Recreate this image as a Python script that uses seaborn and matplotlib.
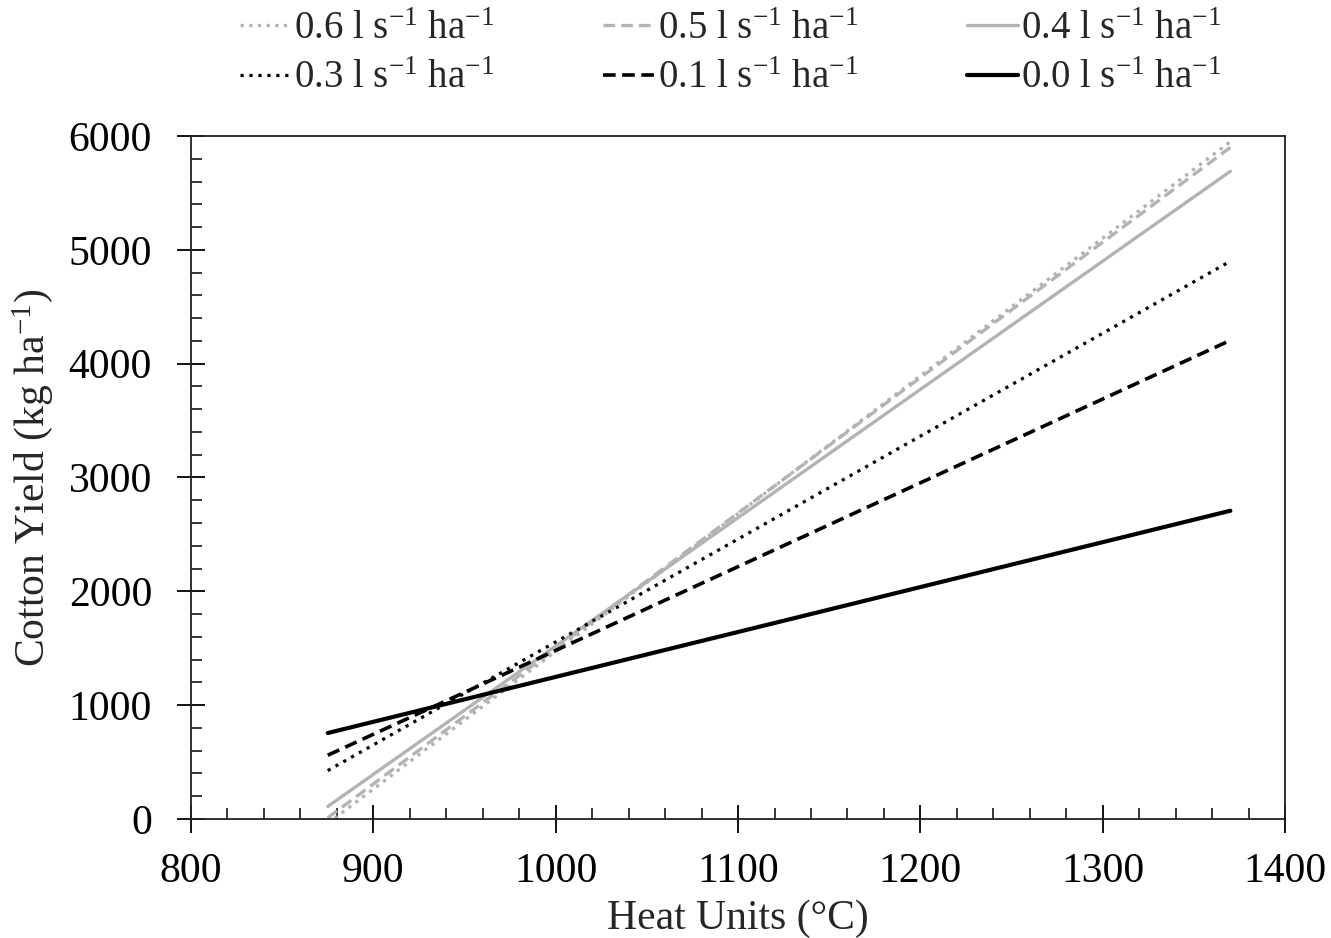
import matplotlib
matplotlib.use("Agg")
import matplotlib.pyplot as plt
import seaborn as sns
import pandas as pd
from matplotlib.ticker import MultipleLocator

sns.set_style("white")
plt.rcParams['font.family'] = ['Liberation Serif', 'DejaVu Serif']
plt.rcParams['mathtext.default'] = 'regular'

rates = ["0.6", "0.5", "0.4", "0.3", "0.1", "0.0"]
heat_units = [875, 1370]
yield_start = [-40, 10, 110, 425, 560, 755]
yield_end = [5950, 5900, 5690, 4900, 4205, 2708]
colors = ["#b3b3b3", "#b3b3b3", "#b3b3b3", "black", "black", "black"]
styles = [(0, (1, 1.6)), (0, (3.5, 1.8)), "-", (0, (1, 1.8)), (0, (3.5, 1.8)), "-"]
widths = [2.4, 2.4, 2.4, 2.3, 2.6, 3.0]

fig = plt.figure(figsize=(13.31, 9.38), dpi=100)
ax = fig.add_axes([0.1435, 0.1269, 0.822, 0.7281])

handles = {}
for r, y0, y1, c, ls, lw in zip(rates, yield_start, yield_end, colors, styles, widths):
    df = pd.DataFrame({"x": heat_units, "y": [y0, y1]})
    sns.lineplot(data=df, x="x", y="y", ax=ax, color=c, linewidth=lw, linestyle=ls,
                 label=r"%s l s$^{-1}$ ha$^{-1}$" % r, legend=False)
    handles[r] = ax.lines[-1]

ax.set_xlim(800, 1400)
ax.set_ylim(0, 6000)
ax.xaxis.set_major_locator(MultipleLocator(100))
ax.xaxis.set_minor_locator(MultipleLocator(20))
ax.yaxis.set_major_locator(MultipleLocator(1000))
ax.yaxis.set_minor_locator(MultipleLocator(200))
ax.tick_params(which='major', direction='inout', length=20, width=1.3, labelsize=30,
               bottom=True, left=True, colors='black')
ax.tick_params(axis='y', which='major', pad=18)
ax.tick_params(axis='x', which='major', pad=14)
ax.tick_params(which='minor', direction='in', length=8, width=1.3, bottom=True, left=True)
for s in ax.spines.values():
    s.set_color('#222222')
    s.set_linewidth(1.3)

ax.set_xlabel("Heat Units (°C)", fontsize=30, labelpad=6)
ax.set_ylabel(r"Cotton Yield (kg ha$^{-1}$)", fontsize=30, labelpad=10)

order = ["0.6", "0.3", "0.5", "0.1", "0.4", "0.0"]
hl = [handles[r] for r in order]
lab = [r"%s l s$^{-1}$ ha$^{-1}$" % r for r in order]
fig.legend(hl, lab, ncol=3, loc='upper center', bbox_to_anchor=(0.549, 1.026),
           frameon=False, fontsize=28, handlelength=1.3, handletextpad=0.1,
           columnspacing=2.8, labelspacing=0.33)

fig.savefig("out.png", dpi=100)
